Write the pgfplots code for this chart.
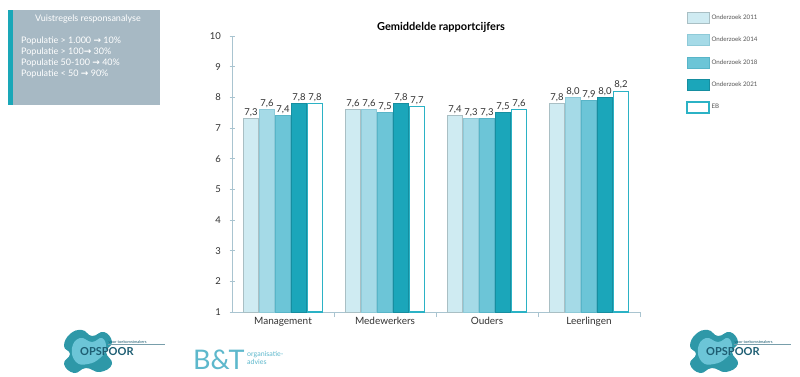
\documentclass[border=0pt]{standalone}
\usepackage{pgfplots}
\pgfplotsset{compat=1.18}
\usepackage{fontspec}
\setmainfont{Lato}
\newfontfamily\symfont{DejaVu Sans}
\definecolor{cA}{HTML}{CFEBF2}
\definecolor{cAd}{HTML}{A9BFC4}
\definecolor{cB}{HTML}{A5DAE7}
\definecolor{cBd}{HTML}{8ECAD8}
\definecolor{cC}{HTML}{6CC5D7}
\definecolor{cCd}{HTML}{58B5C8}
\definecolor{cD}{HTML}{1BA6BA}
\definecolor{cDd}{HTML}{168EA0}
\definecolor{cE}{HTML}{2BB2C5}
\definecolor{axisc}{HTML}{A9C4D0}
\definecolor{labc}{HTML}{333333}
\definecolor{legc}{HTML}{555555}
\definecolor{boxc}{HTML}{A7B9C4}
\definecolor{stripe}{HTML}{1AA7B8}
\definecolor{logoc}{HTML}{1E5E73}
\definecolor{bt}{HTML}{5DB8CC}
\begin{document}
\begin{tikzpicture}[x=1pt,y=1pt]
\useasboundingbox (0pt,0pt) rectangle (800pt,376pt);
\fill[white] (0,0) rectangle (800,376);
% info box
\fill[boxc] (8,271) rectangle (160,366);
\fill[stripe] (8,271) rectangle (13,366);
\node[white, font=\fontsize{9}{10}\selectfont] at (88,357) {Vuistregels responsanalyse};
\node[white, anchor=north west, align=left, inner sep=0pt, font=\fontsize{9}{11}\selectfont] at (21,339)
 {Populatie > 1.000 {\symfont\bfseries →} 10\%\\
  Populatie > 100{\symfont\bfseries →} 30\%\\
  Populatie 50-100 {\symfont\bfseries →} 40\%\\
  Populatie < 50 {\symfont\bfseries →} 90\%};
% title
\node[font=\fontsize{11}{13}\selectfont\bfseries, text=black] at (441,349) {Gemiddelde rapportcijfers};
\begin{axis}[
  at={(232pt,64pt)}, anchor=south west,
  width=408pt, height=276pt, scale only axis,
  xmin=-0.5, xmax=3.5, ymin=1, ymax=10,
  ytick={1,2,3,4,5,6,7,8,9,10},
  xtick={0.5,1.5,2.5,3.5}, xticklabels={},
  extra x ticks={0,1,2,3},
  extra x tick labels={Management,Medewerkers,Ouders,Leerlingen},
  extra x tick style={major tick length=0pt},
  axis lines*=left,
  axis line style={axisc, line width=1pt},
  tick style={axisc, line width=0.8pt},
  tick align=center, major tick length=5pt,
  tick label style={text=labc},
  yticklabel style={font=\fontsize{9.5}{11}\selectfont, xshift=-5pt},
  xticklabel style={font=\fontsize{10}{12}\selectfont, yshift=-2pt},
  /pgf/number format/assume math mode=true,
  ybar=1pt, bar width=15pt,
  nodes near coords={\pgfmathprintnumber[use comma,fixed,fixed zerofill,precision=1]{\pgfplotspointmeta}},
  nodes near coords style={font=\fontsize{9.5}{11}\selectfont, text=labc, inner sep=1.5pt},
  legend style={at={(1.113,1.087)}, anchor=north west, draw=none, fill=none,
    font=\fontsize{6.2}{7}\selectfont, text=legc, row sep=10.5pt, inner sep=0pt},
  legend cell align=left,
  legend image code/.code={\draw[#1] (0pt,-5.5pt) rectangle (22pt,5.5pt);},
]
\addplot[fill=cA, draw=cAd, line width=0.8pt] coordinates {(0,7.3) (1,7.6) (2,7.4) (3,7.8)};
\addplot[fill=cB, draw=cBd, line width=0.8pt] coordinates {(0,7.6) (1,7.6) (2,7.3) (3,8.0)};
\addplot[fill=cC, draw=cCd, line width=0.8pt] coordinates {(0,7.4) (1,7.5) (2,7.3) (3,7.9)};
\addplot[fill=cD, draw=cDd, line width=0.8pt] coordinates {(0,7.8) (1,7.8) (2,7.5) (3,8.0)};
\addplot[fill=white, draw=cE, line width=1.2pt] coordinates {(0,7.8) (1,7.7) (2,7.6) (3,8.2)};
\legend{Onderzoek 2011,Onderzoek 2014,Onderzoek 2018,Onderzoek 2021,EB}
\end{axis}
% logos (decorative)
\foreach \ox/\oy in {0/0, 626/0} {
  \begin{scope}[shift={(\ox pt,\oy pt)}]
  \fill[cD!85!black!90] plot[smooth cycle, tension=0.8] coordinates {(64,30) (70,42) (82,46) (92,40) (104,44) (112,34) (106,24) (112,12) (100,4) (86,8) (74,3) (64,12) (70,22)};
  \fill[cC] plot[smooth cycle, tension=0.8] coordinates {(72,28) (80,38) (92,34) (102,38) (106,28) (100,18) (88,12) (76,14)};
  \node[font=\fontsize{11}{12}\selectfont\bfseries, text=logoc, anchor=west, inner sep=0pt] at (80,24) {OPSPOOR};
  \draw[logoc!60, line width=0.4pt] (108,32) -- (165,32);
  \node[font=\fontsize{4}{5}\selectfont, text=logoc, anchor=south west, inner sep=0.5pt] at (108,32) {voor toekomstmakers};
  \end{scope}
}
\node[font=\fontsize{27}{29}\selectfont, text=bt, anchor=base west, inner sep=0pt] at (193,7) {B\&T};
\node[font=\fontsize{7}{7.5}\selectfont, text=bt, anchor=west, align=left, inner sep=0pt] at (247,18) {organisatie-\\advies};
\end{tikzpicture}
\end{document}
